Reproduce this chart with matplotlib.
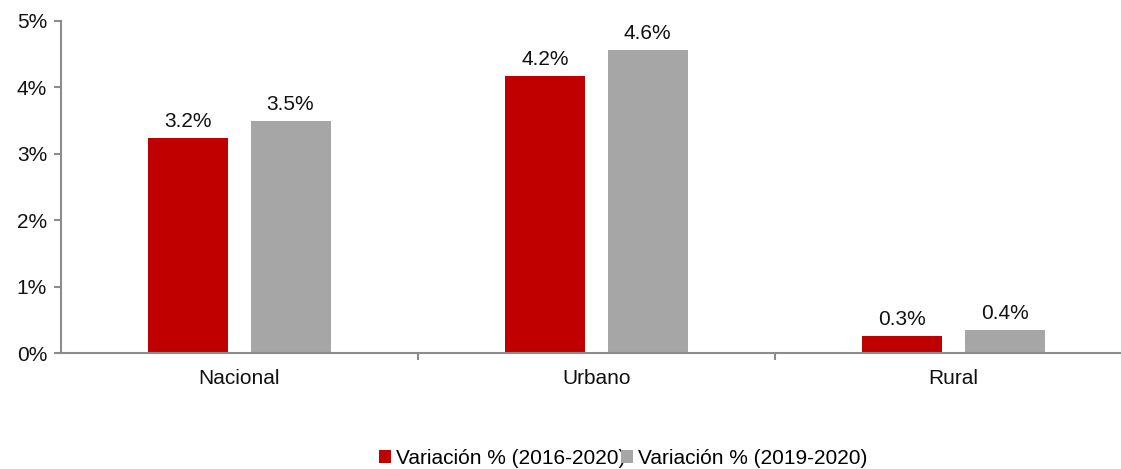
import matplotlib.pyplot as plt
import numpy as np
from matplotlib.ticker import FuncFormatter

plt.rcParams['font.family'] = ['Liberation Sans', 'DejaVu Sans']

categories = ['Nacional', 'Urbano', 'Rural']
var_2016_2020 = [3.24, 4.17, 0.27]
var_2019_2020 = [3.49, 4.56, 0.36]
labels_2016 = ['3.2%', '4.2%', '0.3%']
labels_2019 = ['3.5%', '4.6%', '0.4%']
series_names = ['Variación % (2016-2020)', 'Variación % (2019-2020)']

red = '#C00000'
gray = '#A6A6A6'
axis_gray = '#8C8C8C'
fs = 15

fig = plt.figure(figsize=(11.21, 4.69), dpi=100)
ax = fig.add_axes([0.0544, 0.2463, 0.9554, 0.7096])

x = np.arange(len(categories))
w = 0.224
off = 0.143
b1 = ax.bar(x - off, var_2016_2020, w, color=red, label=series_names[0])
b2 = ax.bar(x + off, var_2019_2020, w, color=gray, label=series_names[1])

for bars, labs in ((b1, labels_2016), (b2, labels_2019)):
    for bar, lab in zip(bars, labs):
        ax.annotate(lab, (bar.get_x() + bar.get_width() / 2, bar.get_height()),
                    xytext=(0, 5), textcoords='offset points',
                    ha='center', va='bottom', fontsize=fs, color='#111111')

ax.set_xlim(-0.5, 2.5)
ax.set_ylim(0, 5)
ax.set_yticks(range(6))
ax.yaxis.set_major_formatter(FuncFormatter(lambda v, p: f'{int(v)}%'))

ax.set_xticks(x)
ax.set_xticklabels(categories)
ax.set_xticks([0.5, 1.5], minor=True)
ax.tick_params(axis='x', which='major', length=0, pad=11, labelsize=fs, labelcolor='#111111')
ax.tick_params(axis='x', which='minor', length=5, width=1.5, color=axis_gray, direction='out')
ax.tick_params(axis='y', length=5, width=1.5, color=axis_gray, pad=5, labelsize=fs, labelcolor='#111111')

for s in ['top', 'right']:
    ax.spines[s].set_visible(False)
for s in ['left', 'bottom']:
    ax.spines[s].set_color(axis_gray)
    ax.spines[s].set_linewidth(1.5)

fig.legend(handles=[b1, b2], labels=series_names, loc='center', bbox_to_anchor=(0.556, 0.023),
           ncol=2, frameon=False, fontsize=fs, handlelength=0.55, handleheight=0.55,
           handletextpad=0.25, columnspacing=-0.2)

fig.savefig('out.png', dpi=100)
